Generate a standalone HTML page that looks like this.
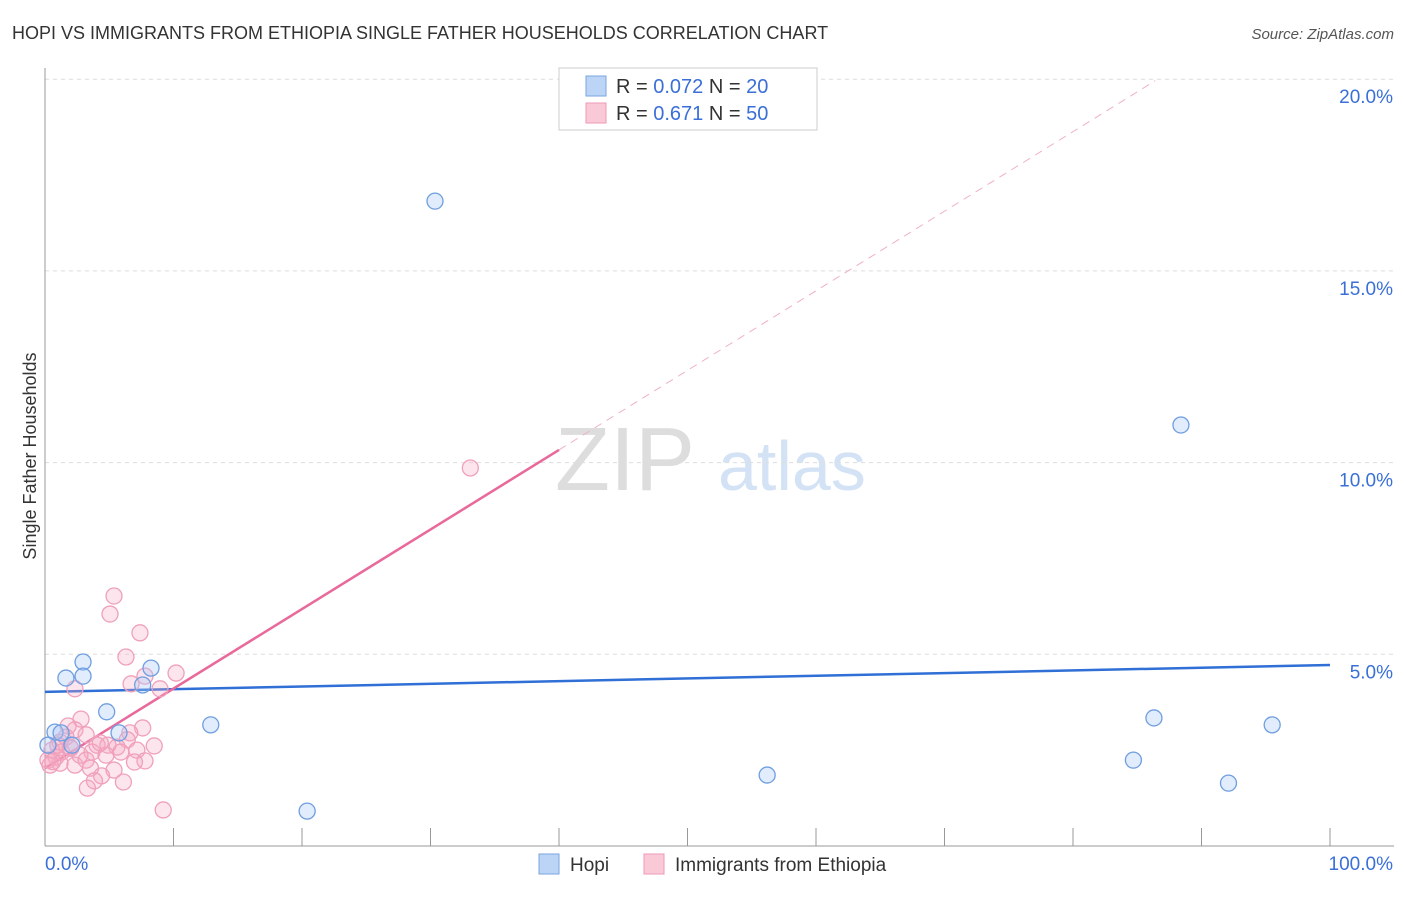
<!DOCTYPE html>
<html><head><meta charset="utf-8"><style>
body{margin:0;background:#fff;font-family:"Liberation Sans",sans-serif}
svg text{font-family:"Liberation Sans",sans-serif}
</style></head><body>
<svg id="c" width="1406" height="892">
<text x="12" y="39" font-size="18" fill="#333">HOPI VS IMMIGRANTS FROM ETHIOPIA SINGLE FATHER HOUSEHOLDS CORRELATION CHART</text>
<text x="1394" y="39" font-size="15" fill="#555" font-style="italic" text-anchor="end">Source: ZipAtlas.com</text>
<text x="36" y="456" font-size="18" fill="#333" text-anchor="middle" transform="rotate(-90 36 456)">Single Father Households</text>
<g><text x="555" y="490" font-size="90" fill="#ddd" font-family="Liberation Serif">ZIP</text><text x="718" y="490" font-size="70" fill="#d3e2f5">atlas</text></g>
<g id="grid"></g>
<g id="axes"></g>
<g id="lines"></g>
<g id="pts"></g>
<g>
<rect x="559" y="68" width="258" height="62" fill="#fff" stroke="#ccc"/>
<rect x="586" y="76" width="20" height="20" fill="#bcd4f5" stroke="#7aa6e0"/>
<text x="616" y="93" font-size="20" fill="#333">R = <tspan fill="#3a6fd8">0.072</tspan>   N = <tspan fill="#3a6fd8">20</tspan></text>
<rect x="586" y="103" width="20" height="20" fill="#f9c9d8" stroke="#ee9ab5"/>
<text x="616" y="120" font-size="20" fill="#333">R =  <tspan fill="#3a6fd8">0.671</tspan>   N = <tspan fill="#3a6fd8">50</tspan></text>
</g>
<g>
<rect x="539" y="854" width="20" height="20" fill="#bcd4f5" stroke="#7aa6e0"/><text x="570" y="871" font-size="19" fill="#333">Hopi</text>
<rect x="644" y="854" width="20" height="20" fill="#f9c9d8" stroke="#ee9ab5"/><text x="675" y="871" font-size="19" fill="#333">Immigrants from Ethiopia</text>
</g>
</svg>
<script>
const yTicks=[5,10,15,20];
const yTickLabels=["5.0%","10.0%","15.0%","20.0%"];
const xTickVals=[10,20,30,40,50,60,70,80,90,100];
const hopiX=[30.35,88.4,2.96,8.25,1.63,2.96,7.6,4.8,12.9,0.78,1.25,5.76,2.1,86.3,95.5,84.7,56.2,92.1,20.4,0.23];
const hopiY=[16.82,10.98,4.8,4.64,4.38,4.43,4.2,3.5,3.16,2.97,2.95,2.95,2.63,3.34,3.16,2.24,1.85,1.64,0.91,2.63];
const ethX=[33.1,5.37,5.06,7.39,6.3,10.2,7.78,6.7,8.95,2.33,2.8,7.6,2.33,6.6,3.2,1.63,6.4,1.17,4.05,4.9,8.5,5.6,1.95,7.15,0.54,3.66,4.75,2.72,0.86,7.78,6.96,1.17,0.39,2.33,3.54,5.37,4.4,3.85,6.1,3.3,9.2,0.23,1.3,1.0,3.2,4.3,1.8,0.6,2.0,5.9];
const ethY=[9.86,6.52,6.05,5.56,4.93,4.51,4.43,4.23,4.1,4.1,3.31,3.08,3.03,2.95,2.9,2.84,2.77,2.71,2.63,2.63,2.61,2.58,2.58,2.5,2.5,2.45,2.37,2.37,2.32,2.22,2.19,2.16,2.11,2.11,2.03,1.98,1.83,1.7,1.67,1.51,0.94,2.24,2.45,2.63,2.24,2.69,3.13,2.2,2.55,2.45];
const hopiLine=[[0,4.02],[100,4.72]];
const ethLine=[[0,2.03],[40,10.33]];
const ethDash=[[40,10.33],[86.4,19.96]];
const X=v=>45+v*12.85, Y=v=>846-v*38.34;
const ns="http://www.w3.org/2000/svg";
function mk(p,t,a){const e=document.createElementNS(ns,t);for(const k in a)e.setAttribute(k,a[k]);document.getElementById(p).appendChild(e);return e;}
yTicks.forEach((v,i)=>{
 const g=mk('grid','line',{x1:45,x2:1394,y1:Y(v),y2:Y(v),stroke:'#ddd','stroke-dasharray':'4 4'});
 
 
 const t=mk('axes','text',{x:1393,y:Y(v)+24,'font-size':19,fill:'#3a6fd8','text-anchor':'end'});t.textContent=yTickLabels[i];
 
 
});
mk('axes','line',{x1:45,x2:45,y1:68,y2:846,stroke:'#999'});
mk('axes','line',{x1:45,x2:1394,y1:846,y2:846,stroke:'#999'});
xTickVals.forEach(v=>{const l=mk('axes','line',{x1:X(v),x2:X(v),y1:828,y2:846,stroke:'#999'});
 
 });
let t0=mk('axes','text',{x:45,y:870,'font-size':19,fill:'#3a6fd8'});t0.textContent="0.0%";


let t1=mk('axes','text',{x:1393,y:870,'font-size':19,fill:'#3a6fd8','text-anchor':'end'});t1.textContent="100.0%";


ethX.forEach((x,i)=>{const c=mk('pts','circle',{cx:X(x),cy:Y(ethY[i]),r:8,fill:'rgba(246,170,195,0.3)',stroke:'#f0a0bb','stroke-width':1.3});
 
 });
hopiX.forEach((x,i)=>{const c=mk('pts','circle',{cx:X(x),cy:Y(hopiY[i]),r:8,fill:'rgba(170,200,245,0.35)',stroke:'#6f9ee0','stroke-width':1.3});
 
 });
let a=mk('lines','line',{x1:X(hopiLine[0][0]),y1:Y(hopiLine[0][1]),x2:X(hopiLine[1][0]),y2:Y(hopiLine[1][1]),stroke:'#2f6fd6','stroke-width':2.5});


let b=mk('lines','line',{x1:X(ethLine[0][0]),y1:Y(ethLine[0][1]),x2:X(ethLine[1][0]),y2:Y(ethLine[1][1]),stroke:'#e8699a','stroke-width':2.5});


let d=mk('lines','line',{x1:X(ethDash[0][0]),y1:Y(ethDash[0][1]),x2:X(ethDash[1][0]),y2:Y(ethDash[1][1]),stroke:'#f0b0c8','stroke-width':1,'stroke-dasharray':'8 6'});


</script>
</body></html>
